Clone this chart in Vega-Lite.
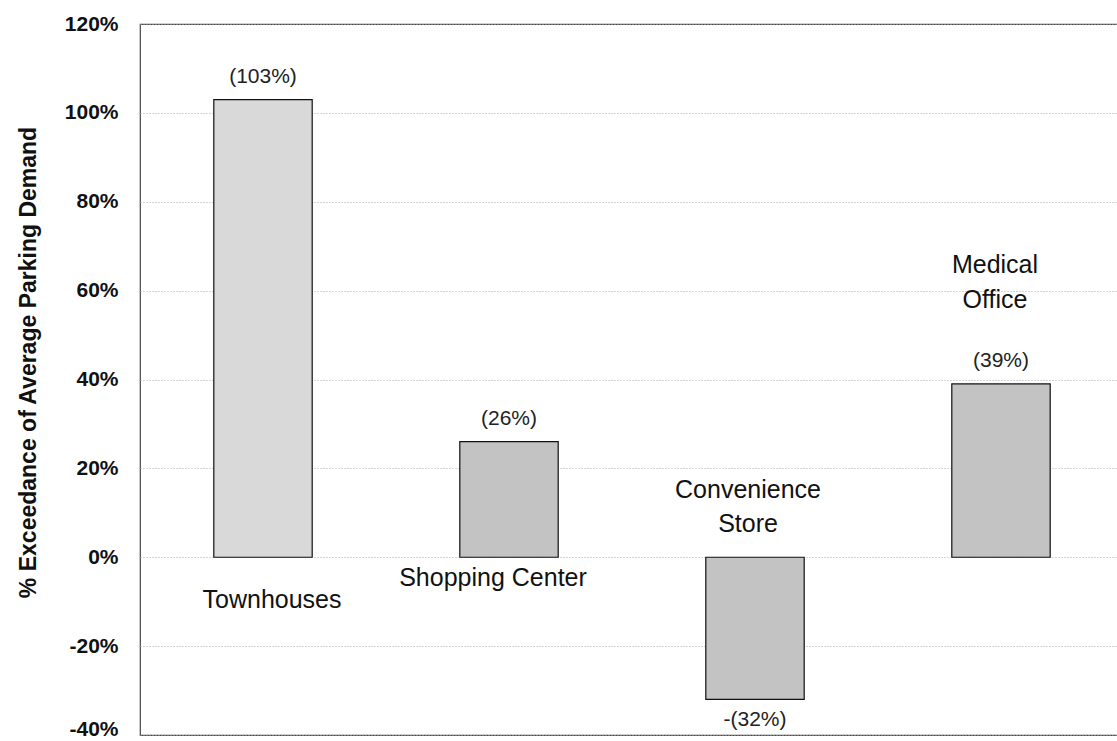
{
  "$schema": "https://vega.github.io/schema/vega-lite/v6.json",
  "autosize": "none",
  "width": 984,
  "height": 711,
  "padding": {"left": 140, "top": 24, "right": 0, "bottom": 6},
  "background": "white",
  "config": {
    "font": "Liberation Sans",
    "view": {"stroke": "#444", "strokeWidth": 1.2}
  },
  "data": {
    "values": [
      {"category": "Townhouses", "value": 103},
      {"category": "Shopping Center", "value": 26},
      {"category": "Convenience Store", "value": -32},
      {"category": "Medical Office", "value": 39}
    ]
  },
  "transform": [
    {"calculate": "(datum.value < 0 ? '-' : '') + '(' + abs(datum.value) + '%)'", "as": "label"}
  ],
  "encoding": {
    "x": {
      "field": "category",
      "type": "nominal",
      "sort": null,
      "axis": null,
      "scale": {"paddingInner": 0.6, "paddingOuter": 0.3}
    }
  },
  "layer": [
    {
      "mark": {"type": "bar", "stroke": "#111", "strokeWidth": 1.2},
      "encoding": {
        "y": {
          "field": "value",
          "type": "quantitative",
          "scale": {"domain": [-40, 120], "nice": false},
          "axis": {
            "title": "% Exceedance of Average Parking Demand",
            "titleFont": "Liberation Sans",
            "titleFontSize": 23,
            "titleFontWeight": "bold",
            "titleColor": "#111",
            "titleAngle": -90,
            "titleX": -112,
            "titleY": 338,
            "titleAlign": "center",
            "titleBaseline": "middle",
            "values": [-40, -20, 0, 20, 40, 60, 80, 100, 120],
            "labelExpr": "datum.value + '%'",
            "labelFontSize": 21,
            "labelFontWeight": "bold",
            "labelColor": "#111",
            "labelPadding": 22,
            "labelBaseline": {"condition": {"test": "datum.value === -40", "value": "alphabetic"}, "value": "middle"},
            "ticks": false,
            "tickSize": 0,
            "domain": false,
            "grid": true,
            "gridColor": "#aaa",
            "gridDash": [1, 2],
            "gridWidth": 1
          }
        },
        "fill": {
          "condition": {"test": "datum.category === 'Townhouses'", "value": "#d9d9d9"},
          "value": "#c3c3c3"
        }
      }
    },
    {
      "mark": {"type": "rule", "color": "#333", "strokeWidth": 1.5},
      "encoding": {"y": {"datum": 0, "type": "quantitative"}}
    },
    {
      "transform": [{"filter": "datum.value >= 0"}],
      "mark": {"type": "text", "fontSize": 21, "color": "#222", "baseline": "middle", "dy": -23},
      "encoding": {
        "y": {"field": "value", "type": "quantitative"},
        "text": {"field": "label"}
      }
    },
    {
      "transform": [{"filter": "datum.value < 0"}],
      "mark": {"type": "text", "fontSize": 21, "color": "#222", "baseline": "middle", "dy": 21},
      "encoding": {
        "y": {"field": "value", "type": "quantitative"},
        "text": {"field": "label"}
      }
    },
    {
      "transform": [{"filter": "datum.category === 'Townhouses'"}],
      "mark": {"type": "text", "fontSize": 25, "color": "#111", "baseline": "middle", "dx": 9},
      "encoding": {
        "y": {"datum": -9.6, "type": "quantitative"},
        "text": {"field": "category"}
      }
    },
    {
      "transform": [{"filter": "datum.category === 'Shopping Center'"}],
      "mark": {"type": "text", "fontSize": 25, "color": "#111", "baseline": "middle", "dx": -16},
      "encoding": {
        "y": {"datum": -4.6, "type": "quantitative"},
        "text": {"field": "category"}
      }
    },
    {
      "transform": [{"filter": "datum.category === 'Convenience Store'"}],
      "mark": {"type": "text", "fontSize": 25, "color": "#111", "baseline": "middle", "dx": -7, "lineBreak": " ", "lineHeight": 34},
      "encoding": {
        "y": {"datum": 15.1, "type": "quantitative"},
        "text": {"field": "category"}
      }
    },
    {
      "transform": [{"filter": "datum.category === 'Medical Office'"}],
      "mark": {"type": "text", "fontSize": 25, "color": "#111", "baseline": "middle", "dx": -6, "lineBreak": " ", "lineHeight": 35},
      "encoding": {
        "y": {"datum": 65.7, "type": "quantitative"},
        "text": {"field": "category"}
      }
    }
  ]
}
